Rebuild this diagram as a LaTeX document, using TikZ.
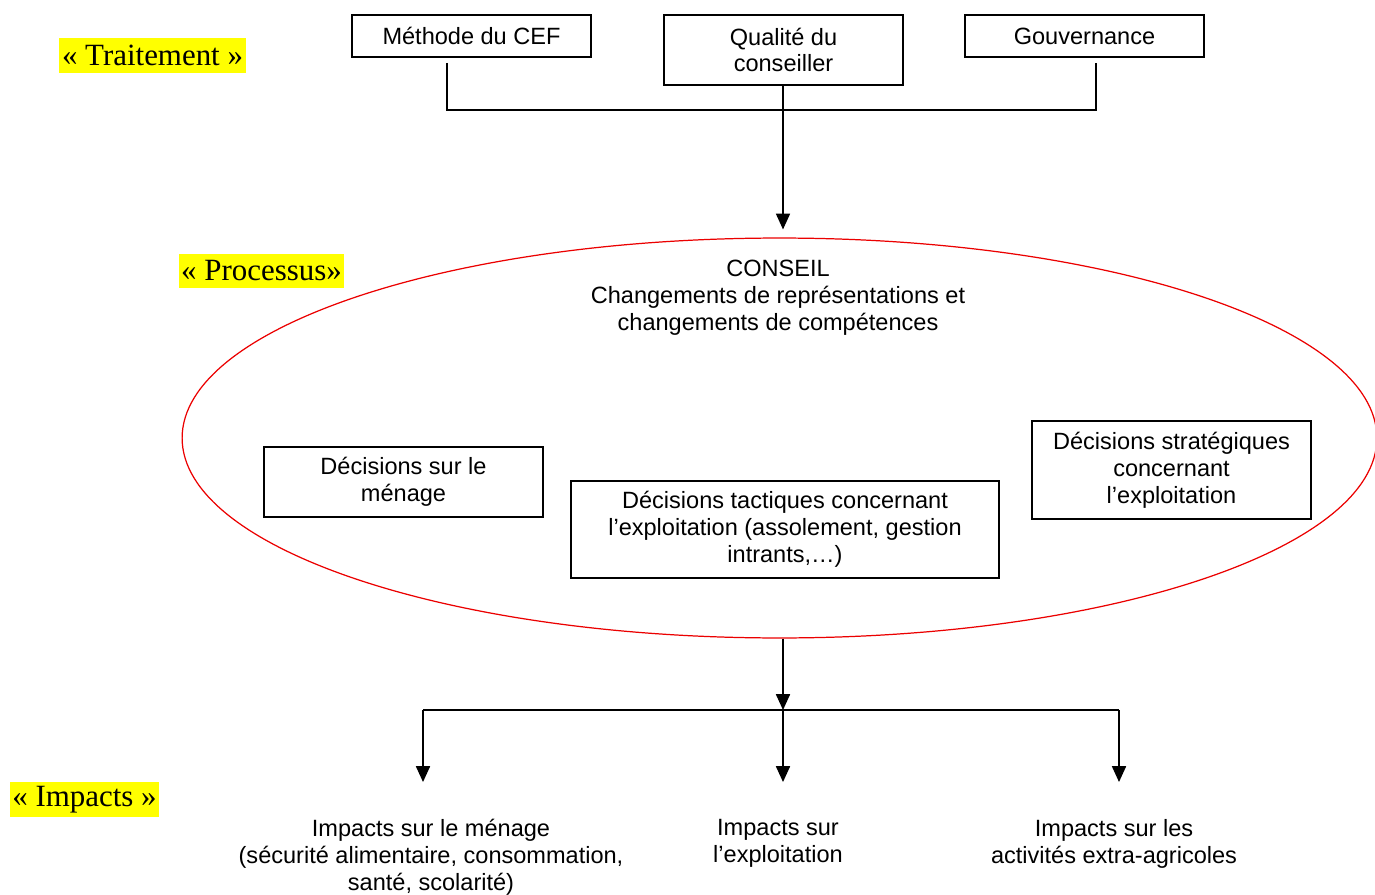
\documentclass[tikz,border=0pt]{standalone}
\usepackage{fontspec}
\setmainfont{Liberation Serif}
\setsansfont{Liberation Sans}
\usetikzlibrary{shapes.geometric,arrows.meta,positioning,calc}
\definecolor{tagyellow}{RGB}{255,255,0}
\definecolor{ovalred}{RGB}{235,0,0}

\begin{document}
\begin{tikzpicture}[x=0.02cm, y=-0.02cm,
    box/.style={rectangle, draw=black, line width=0.8pt, align=center,
                font=\sffamily\fontsize{13.4}{15.3}\selectfont, inner sep=0pt},
    plain/.style={align=center, font=\sffamily\fontsize{13.4}{15.3}\selectfont, inner sep=0pt},
    tag/.style={fill=tagyellow, font=\rmfamily\fontsize{17.6}{20}\selectfont,
                inner xsep=1.5pt, inner ysep=0pt, minimum height=0.7cm},
    link/.style={line width=0.85pt},
    arr/.style={link, -{Triangle[width=8pt,length=9pt]}}
]
    \useasboundingbox (0,0) rectangle (1375,895);

    % level labels
    \node[tag] (ltrait) at (152.5,55.5) {« Traitement »};
    \node[tag] (lproc) at (261.5,271) {« Processus»};
    \node[tag] (limp) at (84.5,799.5) {« Impacts »};

    % treatment boxes
    \node[box, minimum width=4.78cm, minimum height=0.84cm] (methode) at (471.5,36) {Méthode du CEF};
    \node[box, minimum width=4.78cm, minimum height=1.4cm] (qualite) at (783.5,50) {Qualité du\\conseiller};
    \node[box, minimum width=4.78cm, minimum height=0.84cm] (gouv) at (1084.5,36) {Gouvernance};

    % process oval
    \node[ellipse, draw=ovalred, line width=0.7pt, minimum width=23.9cm, minimum height=8cm, inner sep=0pt] (oval) at (779.5,438) {};
    \node[plain] (conseil) at (778,298) {CONSEIL\\Changements de représentations et\\changements de compétences};
    \node[box, minimum width=5.58cm, minimum height=1.4cm] (dmen) at (403.5,482) {Décisions sur le\\ménage};
    \node[box, minimum width=8.56cm, minimum height=1.94cm] (dtac) at (785,529.5) {Décisions tactiques concernant\\l’exploitation (assolement, gestion\\intrants,…)};
    \node[box, minimum width=5.58cm, minimum height=1.96cm] (dstr) at (1171.5,470) {Décisions stratégiques\\concernant\\l’exploitation};

    % impacts
    \node[plain] (imen) at (431,857) {Impacts sur le ménage\\(sécurité alimentaire, consommation,\\santé, scolarité)};
    \node[plain] (iexp) at (778,843.5) {Impacts sur\\l’exploitation};
    \node[plain] (iact) at (1114,843.5) {Impacts sur les\\activités extra-agricoles};

    % connectors top
    \coordinate (tm) at (447,63);
    \coordinate (tg) at (1096,63);
    \coordinate (jt) at (783,110);
    \draw[link] (tm) |- (jt) -| (tg);
    \draw[arr, shorten >=0.16cm] (jt |- qualite.south) -- (jt |- oval.north);

    % connectors bottom
    \coordinate (jb) at (783,710);
    \coordinate (am) at (423,782);
    \coordinate (ae) at (783,782);
    \coordinate (aa) at (1119,782);
    \draw[arr] (jb |- oval.south) -- (jb);
    \draw[link] (am |- jb) -- (aa |- jb);
    \draw[arr] (am |- jb) -- (am);
    \draw[arr] (jb) -- (ae);
    \draw[arr] (aa |- jb) -- (aa);
\end{tikzpicture}
\end{document}
